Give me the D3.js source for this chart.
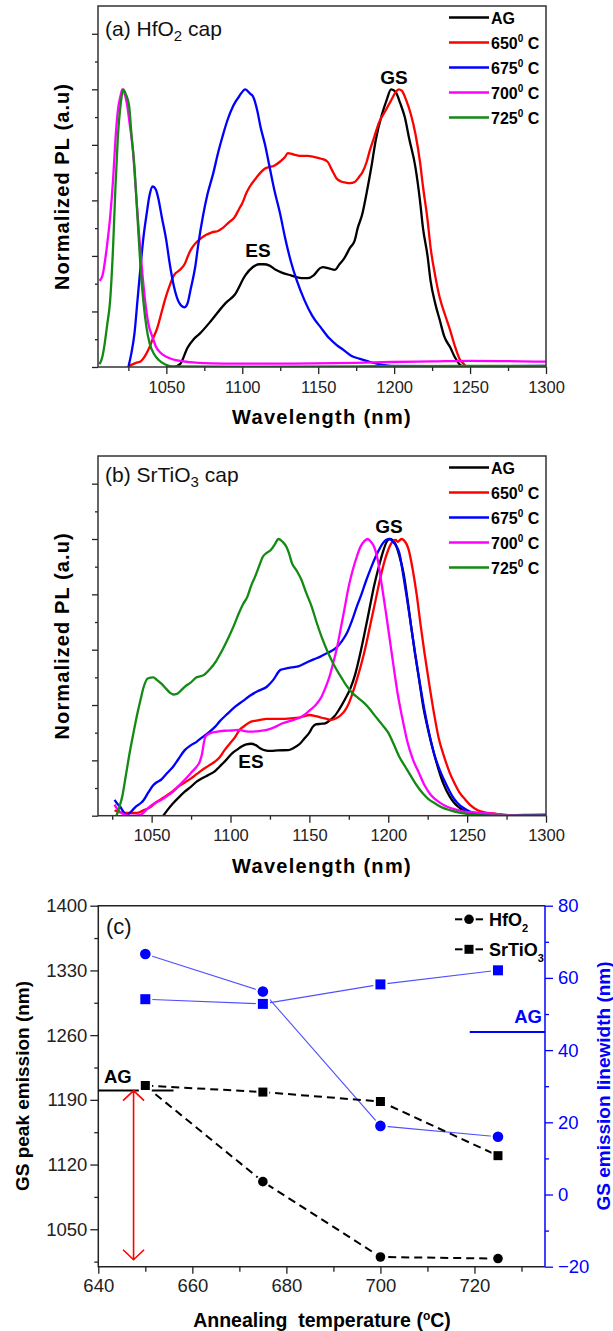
<!DOCTYPE html>
<html>
<head>
<meta charset="utf-8">
<script src="https://cdn.jsdelivr.net/npm/d3@7"></script>
<style>
  body { margin: 0; background: #fff; }
  svg { display: block; }
  text { font-family: "Liberation Sans", Arial, Helvetica, sans-serif; }
</style>
</head>
<body>
<div id="chart"></div>
<script>
const width = 613, height = 1331;

// (a) HfO2 cap spectra: [wavelength (nm), normalized PL]
const hfAG = [[1050,0],[1055,0],[1059,0.01],[1064,0.07],[1068,0.1],[1072,0.12],[1080,0.17],[1089,0.23],[1095,0.26],[1102,0.33],[1107,0.36],[1111,0.37],[1114,0.37],[1118,0.365],[1122,0.35],[1126,0.34],[1132,0.33],[1139,0.32],[1143,0.32],[1147,0.33],[1151,0.355],[1153,0.36],[1157,0.355],[1161,0.35],[1164,0.37],[1167,0.39],[1171,0.43],[1174,0.455],[1176,0.5],[1179,0.55],[1182,0.63],[1185,0.72],[1188,0.82],[1192,0.91],[1195,0.96],[1198,1.0],[1201,0.99],[1204,0.95],[1207,0.9],[1210,0.82],[1214,0.72],[1217,0.6],[1219,0.5],[1222,0.4],[1224,0.31],[1227,0.23],[1230,0.17],[1233,0.11],[1237,0.07],[1240,0.035],[1243,0.01],[1246,0],[1300,0]];
const hf650 = [[1025.5,0.004],[1030,0.015],[1033,0.02],[1036,0.04],[1038,0.06],[1041,0.1],[1044,0.14],[1047,0.2],[1049,0.24],[1052,0.29],[1055,0.33],[1059,0.35],[1062,0.37],[1065,0.41],[1067,0.43],[1070,0.45],[1072,0.46],[1076,0.475],[1080,0.485],[1084,0.49],[1087,0.5],[1091,0.52],[1095,0.54],[1098,0.57],[1100,0.59],[1103,0.63],[1105,0.65],[1109,0.68],[1112,0.7],[1115,0.715],[1118,0.72],[1121,0.725],[1125,0.74],[1128,0.755],[1130,0.77],[1134,0.765],[1139,0.76],[1143,0.76],[1147,0.757],[1152,0.75],[1156,0.74],[1159,0.71],[1162,0.68],[1165,0.668],[1168,0.664],[1171,0.662],[1174,0.666],[1177,0.685],[1179,0.7],[1182,0.74],[1184,0.78],[1187,0.83],[1190,0.88],[1194,0.92],[1198,0.96],[1201,0.99],[1203,1.0],[1205,0.995],[1208,0.96],[1211,0.91],[1214,0.84],[1217,0.74],[1219,0.65],[1222,0.53],[1224,0.43],[1227,0.33],[1230,0.25],[1234,0.18],[1237,0.13],[1240,0.075],[1243,0.03],[1246,0.01],[1248,0],[1300,0]];
const hf675 = [[1025,0],[1027,0.05],[1029,0.12],[1031,0.24],[1033,0.36],[1035,0.47],[1037,0.55],[1039,0.62],[1041,0.65],[1043,0.64],[1045,0.6],[1047,0.54],[1050,0.455],[1052,0.38],[1055,0.29],[1057,0.25],[1060,0.22],[1062,0.215],[1064,0.23],[1066,0.28],[1069,0.36],[1071,0.44],[1074,0.54],[1077,0.62],[1081,0.7],[1084,0.77],[1087,0.83],[1090,0.885],[1094,0.94],[1098,0.975],[1102,1.0],[1105,0.985],[1107,0.975],[1110,0.92],[1112,0.865],[1115,0.8],[1118,0.72],[1121,0.64],[1125,0.55],[1128,0.47],[1132,0.38],[1136,0.31],[1141,0.24],[1146,0.185],[1152,0.14],[1157,0.105],[1162,0.08],[1167,0.06],[1172,0.04],[1177,0.03],[1183,0.02],[1190,0.01],[1198,0.004],[1250,0.002],[1300,0.004]];
const hf700 = [[1006,0.31],[1008,0.33],[1009,0.36],[1011,0.44],[1013,0.54],[1015,0.68],[1016.5,0.82],[1018,0.92],[1020,0.98],[1021,1.0],[1022.5,0.985],[1024,0.95],[1026,0.87],[1028,0.78],[1030,0.63],[1032,0.48],[1034,0.35],[1036,0.24],[1038,0.16],[1041,0.106],[1043,0.075],[1046,0.052],[1050,0.037],[1054,0.028],[1060,0.021],[1069,0.016],[1080,0.013],[1095,0.012],[1120,0.012],[1147,0.013],[1175,0.015],[1198,0.018],[1225,0.02],[1250,0.022],[1275,0.021],[1300,0.019]];
const hf725 = [[1006,0.01],[1008,0.04],[1009,0.07],[1011,0.15],[1013,0.24],[1015,0.44],[1016.5,0.65],[1018,0.82],[1020,0.95],[1021.6,1.0],[1023.5,0.98],[1025.5,0.94],[1027,0.84],[1029,0.72],[1031,0.54],[1033,0.36],[1035,0.23],[1037,0.14],[1039,0.085],[1042,0.046],[1045,0.025],[1049,0.01],[1054,0.002],[1100,0.001],[1200,0.003],[1300,0.004]];

// (b) SrTiO3 cap spectra
const srAG = [[1057.4,0],[1060,0.02],[1063.6,0.045],[1067,0.065],[1071,0.087],[1075,0.105],[1078.5,0.123],[1082,0.135],[1086,0.147],[1090,0.16],[1093,0.177],[1097,0.2],[1101,0.225],[1104,0.238],[1107,0.25],[1110,0.258],[1113,0.26],[1116,0.255],[1119,0.243],[1122,0.236],[1125.5,0.234],[1130,0.236],[1136.6,0.237],[1140,0.245],[1144,0.26],[1147,0.28],[1150,0.3],[1152,0.32],[1154,0.33],[1157,0.332],[1160,0.334],[1163,0.345],[1166,0.36],[1169,0.385],[1172.5,0.42],[1176,0.46],[1179,0.51],[1182,0.58],[1185,0.66],[1188,0.745],[1191,0.83],[1194,0.9],[1197,0.96],[1199,0.99],[1201,1.0],[1203,0.995],[1204.7,0.98],[1207,0.94],[1209.7,0.876],[1212,0.79],[1214.6,0.68],[1217,0.585],[1219.6,0.49],[1222,0.4],[1225.7,0.3],[1229,0.225],[1232,0.165],[1235,0.115],[1239,0.069],[1242,0.045],[1245.5,0.027],[1251.7,0.008],[1264,0],[1300,0]];
const sr650 = [[1026.5,0.02],[1030,0.012],[1034,0.01],[1041,0.01],[1045,0.02],[1049,0.03],[1052,0.045],[1056,0.06],[1060,0.075],[1063.6,0.09],[1067,0.105],[1071,0.12],[1075,0.135],[1078.5,0.15],[1082,0.165],[1086,0.18],[1090,0.195],[1093,0.21],[1096,0.235],[1099.5,0.26],[1103,0.285],[1105.7,0.31],[1109,0.325],[1113,0.34],[1118,0.345],[1123,0.35],[1128,0.35],[1133,0.35],[1138,0.352],[1143,0.354],[1147,0.36],[1150,0.364],[1154,0.36],[1157.7,0.354],[1161,0.35],[1164,0.346],[1167,0.352],[1170,0.364],[1172.5,0.38],[1175,0.406],[1177.5,0.445],[1180,0.49],[1183,0.55],[1186,0.62],[1189,0.7],[1192,0.78],[1195,0.86],[1198.5,0.936],[1202,0.985],[1204.7,0.997],[1206,0.99],[1208.4,1.0],[1210,0.995],[1213,0.96],[1215.5,0.89],[1218,0.8],[1220.5,0.69],[1223,0.587],[1226,0.475],[1229,0.37],[1232,0.28],[1235.6,0.21],[1239,0.155],[1242,0.117],[1245,0.085],[1249,0.057],[1252,0.038],[1256.7,0.02],[1261,0.012],[1266.6,0.008],[1276,0.002],[1300,0]];
const sr675 = [[1026.5,0.057],[1028,0.045],[1030,0.033],[1032,0.015],[1034,0.002],[1037,0.015],[1040,0.033],[1043,0.045],[1045,0.057],[1048,0.085],[1051,0.11],[1053,0.12],[1056,0.13],[1060,0.155],[1063.6,0.177],[1067,0.205],[1071,0.237],[1075,0.255],[1078.5,0.267],[1082,0.283],[1086,0.3],[1090,0.32],[1093,0.34],[1098,0.368],[1103,0.394],[1108,0.415],[1113,0.436],[1118,0.452],[1123,0.466],[1127,0.49],[1131.7,0.527],[1136,0.533],[1140,0.537],[1143,0.54],[1148,0.553],[1152.7,0.565],[1157,0.575],[1161,0.587],[1164,0.595],[1167.6,0.61],[1170.5,0.63],[1173.8,0.66],[1177,0.705],[1180,0.755],[1183,0.8],[1186,0.85],[1189,0.895],[1192,0.936],[1195,0.97],[1198.5,0.996],[1201,1.0],[1203,0.99],[1205,0.975],[1207,0.95],[1209.5,0.87],[1212,0.78],[1214.5,0.685],[1217,0.587],[1220,0.48],[1223,0.38],[1226,0.295],[1229,0.225],[1233,0.16],[1237,0.11],[1240.5,0.072],[1244,0.045],[1248,0.027],[1251.7,0.015],[1258,0.008],[1264,0.005],[1276.5,0.002],[1290,0.003],[1300,0.004]];
const sr700 = [[1026.5,0.04],[1028.5,0.022],[1031.4,0.008],[1036,0],[1042.6,0.002],[1045.5,0.015],[1048.8,0.033],[1052,0.045],[1056,0.057],[1060,0.072],[1063.6,0.087],[1067,0.107],[1071,0.13],[1075,0.155],[1078.5,0.177],[1080.5,0.195],[1082,0.225],[1083,0.26],[1084,0.285],[1086,0.295],[1088,0.3],[1092,0.304],[1096,0.307],[1101,0.308],[1105.7,0.31],[1109,0.306],[1113,0.304],[1118,0.306],[1123,0.31],[1128,0.32],[1133,0.334],[1138,0.343],[1143,0.352],[1147,0.365],[1150,0.38],[1154,0.4],[1157.7,0.43],[1160,0.46],[1162.6,0.5],[1165,0.55],[1167.6,0.61],[1170,0.68],[1172.5,0.755],[1175,0.83],[1177.5,0.888],[1180,0.935],[1182.4,0.972],[1185,0.993],[1187,1.0],[1189,0.99],[1191,0.972],[1193.5,0.92],[1196,0.83],[1198.5,0.735],[1201,0.635],[1203.5,0.535],[1206,0.44],[1209,0.35],[1212,0.27],[1215.5,0.205],[1219.6,0.153],[1223,0.11],[1227,0.075],[1232,0.05],[1237,0.033],[1243,0.022],[1249,0.014],[1256,0.011],[1264,0.008],[1276.5,0.002],[1300,0]];
const sr725 = [[1027.7,0],[1029.5,0.03],[1031.4,0.07],[1033.5,0.14],[1036,0.225],[1038.5,0.3],[1041,0.37],[1043,0.42],[1045,0.466],[1047.5,0.496],[1051,0.5],[1053.5,0.49],[1056,0.478],[1059,0.46],[1061.5,0.445],[1063.6,0.438],[1066,0.44],[1068.5,0.452],[1071,0.466],[1074.5,0.48],[1078.5,0.5],[1083,0.508],[1087,0.53],[1091,0.56],[1094.5,0.595],[1098,0.635],[1102,0.685],[1105.7,0.737],[1108,0.765],[1110.6,0.79],[1113,0.83],[1115.6,0.864],[1118,0.9],[1120.5,0.936],[1123,0.95],[1125.5,0.96],[1128,0.98],[1130.4,1.0],[1133,0.99],[1135.4,0.972],[1137,0.95],[1139,0.912],[1142,0.885],[1145,0.852],[1148,0.805],[1151.5,0.755],[1154.5,0.7],[1157.7,0.647],[1161,0.6],[1164,0.563],[1167,0.53],[1170,0.502],[1173.5,0.47],[1177.5,0.442],[1181,0.425],[1185,0.406],[1188.5,0.384],[1192,0.358],[1196,0.33],[1200,0.3],[1203.5,0.258],[1207,0.213],[1211,0.175],[1214.6,0.141],[1218,0.11],[1222,0.08],[1225.5,0.06],[1229.5,0.045],[1234,0.03],[1239,0.02],[1245,0.011],[1251.7,0.005],[1264,0],[1300,0]];

const seriesNames = ["AG", "650", "675", "700", "725"];
const seriesColors = ["#000000", "#ff0000", "#0000ff", "#ff00ff", "#138a13"];

// (c) GS peak and linewidth vs annealing temperature
const anneal = [650, 675, 700, 725];
const hfPeak = [1205, 1101.5, 1020, 1018.3];
const srPeak = [1205.5, 1198.4, 1188.2, 1129.6];
const hfWidth = [66.6, 56.2, 19.0, 16.0];
const srWidth = [54.1, 52.8, 58.2, 62.1];
const agPeak = 1200, agWidth = 45;
const arrowTemp = 647.5, arrowLow = 1017;

const svg = d3.select("#chart").append("svg")
    .attr("width", width)
    .attr("height", height);

const plain = d3.format("d");

function styleAxis(g, color) {
    g.select(".domain").remove();
    g.selectAll(".tick line").attr("stroke", color).attr("stroke-width", 1.3);
    g.selectAll(".tick text").attr("fill", color);
}

// spectra panels (a) and (b)
function drawSpectra(p) {
    const x = d3.scaleLinear().domain([p.xMin, 1300]).range([98, 546]);
    const y = d3.scaleLinear().domain([0, 1.3]).range([p.bottom, p.top]);
    const g = svg.append("g");

    g.append("clipPath").attr("id", p.id)
        .append("rect")
        .attr("x", 98).attr("y", p.top)
        .attr("width", 448).attr("height", p.bottom - p.top);

    const line = d3.line()
        .x(d => x(d[0]))
        .y(d => y(d[1]))
        .curve(d3.curveMonotoneX);

    g.append("g").attr("clip-path", `url(#${p.id})`)
        .selectAll("path")
        .data(p.series)
        .join("path")
        .attr("d", d => line(d))
        .attr("fill", "none")
        .attr("stroke", (d, i) => seriesColors[i])
        .attr("stroke-width", 2.3)
        .attr("stroke-linejoin", "round");

    // axes
    const xMajor = g.append("g").attr("transform", `translate(0,${p.bottom})`)
        .call(d3.axisBottom(x).tickValues(d3.range(1050, 1301, 50)).tickSize(7).tickPadding(7).tickFormat(plain));
    styleAxis(xMajor, "#222");
    xMajor.selectAll(".tick text").attr("font-size", 16.5).attr("font-family", null);
    const xMinor = g.append("g").attr("transform", `translate(0,${p.bottom})`)
        .call(d3.axisBottom(x).tickValues(d3.range(1025, 1300, 50)).tickSize(4).tickFormat(""));
    styleAxis(xMinor, "#222");

    const yMajor = g.append("g").attr("transform", "translate(98,0)")
        .call(d3.axisLeft(y).tickValues([0, 0.2, 0.4, 0.6, 0.8, 1.0, 1.2]).tickSize(6).tickFormat(""));
    styleAxis(yMajor, "#222");
    const yMinor = g.append("g").attr("transform", "translate(98,0)")
        .call(d3.axisLeft(y).tickValues([0.1, 0.3, 0.5, 0.7, 0.9, 1.1]).tickSize(3).tickFormat(""));
    styleAxis(yMinor, "#222");

    g.append("rect")
        .attr("x", 98).attr("y", p.top)
        .attr("width", 448).attr("height", p.bottom - p.top)
        .attr("fill", "none").attr("stroke", "#333").attr("stroke-width", 1.5);

    // title
    const t = g.append("text").attr("x", 105).attr("y", p.titleY)
        .attr("font-size", 21).attr("fill", "#111");
    t.append("tspan").text(p.title[0]);
    t.append("tspan").attr("dy", 5).attr("font-size", 15).text(p.title[1]);
    t.append("tspan").attr("dy", -5).text(p.title[2]);

    // legend
    const lg = g.append("g");
    seriesNames.forEach((name, i) => {
        const ly = p.top + 11.5 + i * 25;
        lg.append("line")
            .attr("x1", 449).attr("x2", 489)
            .attr("y1", ly).attr("y2", ly)
            .attr("stroke", seriesColors[i]).attr("stroke-width", 2.5);
        const lt = lg.append("text")
            .attr("x", 491).attr("y", ly + 6)
            .attr("font-size", 16).attr("font-weight", "bold");
        if (i === 0) {
            lt.text(name);
        } else {
            lt.append("tspan").text(name);
            lt.append("tspan").attr("dy", -7).attr("font-size", 10).text("0");
            lt.append("tspan").attr("dy", 7).text(" C");
        }
    });

    // peak labels
    g.append("text").attr("x", p.gs[0]).attr("y", p.gs[1])
        .attr("text-anchor", "middle").attr("font-size", 19).attr("font-weight", "bold").text("GS");
    g.append("text").attr("x", p.es[0]).attr("y", p.es[1])
        .attr("text-anchor", "middle").attr("font-size", 19).attr("font-weight", "bold").text("ES");

    // axis labels
    g.append("text")
        .attr("x", 322).attr("y", p.xLabelY)
        .attr("text-anchor", "middle")
        .attr("font-size", 20).attr("font-weight", "bold")
        .attr("letter-spacing", 1.3)
        .text("Wavelength (nm)");
    g.append("text")
        .attr("transform", `translate(62,${(p.top + p.bottom) / 2}) rotate(-90)`)
        .attr("text-anchor", "middle")
        .attr("dominant-baseline", "central")
        .attr("font-size", 20).attr("font-weight", "bold")
        .attr("letter-spacing", 1.1)
        .text("Normalized PL (a.u)");
}

drawSpectra({
    id: "clipA", xMin: 1005, top: 6, bottom: 367,
    series: [hfAG, hf650, hf675, hf700, hf725],
    title: ["(a) HfO", "2", " cap"], titleY: 36,
    gs: [394, 84], es: [258, 257], xLabelY: 424
});

drawSpectra({
    id: "clipB", xMin: 1016, top: 456, bottom: 815.7,
    series: [srAG, sr650, sr675, sr700, sr725],
    title: ["(b) SrTiO", "3", " cap"], titleY: 482,
    gs: [389, 533], es: [251, 768], xLabelY: 873
});

// panel (c)
const xC = d3.scaleLinear().domain([640, 735]).range([98.3, 545]);
const yPeak = d3.scaleLinear().domain([1009.5, 1400]).range([1266.7, 905.7]);
const yWidth = d3.scaleLinear().domain([-20, 80]).range([1266.7, 905.7]);
const gc = svg.append("g");
const blue = "#0000ff";

// axes
const bx = gc.append("g").attr("transform", "translate(0,1266.7)")
    .call(d3.axisBottom(xC).tickValues(d3.range(640, 721, 20)).tickSize(7).tickPadding(5).tickFormat(plain));
styleAxis(bx, "#222");
bx.selectAll(".tick text").attr("font-size", 18.5).attr("font-family", null);
const bxm = gc.append("g").attr("transform", "translate(0,1266.7)")
    .call(d3.axisBottom(xC).tickValues(d3.range(650, 731, 20)).tickSize(5).tickFormat(""));
styleAxis(bxm, "#222");

const ly = gc.append("g").attr("transform", "translate(98.3,0)")
    .call(d3.axisLeft(yPeak).tickValues([1050, 1120, 1190, 1260, 1330, 1400]).tickSize(8).tickPadding(3).tickFormat(plain));
styleAxis(ly, "#222");
ly.selectAll(".tick text").attr("font-size", 18.5).attr("font-family", null);
const lym = gc.append("g").attr("transform", "translate(98.3,0)")
    .call(d3.axisLeft(yPeak).tickValues([1015, 1085, 1155, 1225, 1295, 1365]).tickSize(4).tickFormat(""));
styleAxis(lym, "#222");

const ry = gc.append("g").attr("transform", "translate(545,0)")
    .call(d3.axisRight(yWidth).tickValues([-20, 0, 20, 40, 60, 80]).tickSize(8).tickPadding(5).tickFormat(plain));
styleAxis(ry, blue);
ry.selectAll(".tick text").attr("font-size", 18.5).attr("font-family", null);
const rym = gc.append("g").attr("transform", "translate(545,0)")
    .call(d3.axisRight(yWidth).tickValues([-10, 10, 30, 50, 70]).tickSize(4).tickFormat(""));
styleAxis(rym, blue);

// frame
gc.append("path")
    .attr("d", `M545,905.7 H98.3 V1266.7 H545`)
    .attr("fill", "none").attr("stroke", "#222").attr("stroke-width", 1.5);
gc.append("line")
    .attr("x1", 545).attr("x2", 545).attr("y1", 905.7).attr("y2", 1266.7)
    .attr("stroke", blue).attr("stroke-width", 1.5);

// AG reference lines
gc.append("line")
    .attr("x1", xC(640)).attr("x2", xC(656))
    .attr("y1", yPeak(agPeak)).attr("y2", yPeak(agPeak))
    .attr("stroke", "#000").attr("stroke-width", 2);
gc.append("text").attr("x", 104).attr("y", yPeak(agPeak) - 8)
    .attr("font-size", 18.5).attr("font-weight", "bold").text("AG");
gc.append("line")
    .attr("x1", xC(719)).attr("x2", xC(735))
    .attr("y1", yWidth(agWidth)).attr("y2", yWidth(agWidth))
    .attr("stroke", blue).attr("stroke-width", 2);
gc.append("text").attr("x", 542).attr("y", yWidth(agWidth) - 9)
    .attr("text-anchor", "end").attr("fill", blue)
    .attr("font-size", 18.5).attr("font-weight", "bold").text("AG");

// red double arrow
const ax = xC(arrowTemp), aTop = yPeak(agPeak), aBot = yPeak(arrowLow);
gc.append("path")
    .attr("d", `M${ax},${aTop} V${aBot} M${ax - 10.5},${aTop + 10} L${ax},${aTop} L${ax + 10.5},${aTop + 10} M${ax - 10.5},${aBot - 10} L${ax},${aBot} L${ax + 10.5},${aBot - 10}`)
    .attr("fill", "none").attr("stroke", "#ff0000").attr("stroke-width", 1.6);

// linewidth (blue, right axis)
const wLine = d3.line().x((d, i) => xC(anneal[i])).y(d => yWidth(d));
gc.append("path").attr("d", wLine(hfWidth)).attr("fill", "none").attr("stroke", "#5050ff").attr("stroke-width", 1.1);
gc.append("path").attr("d", wLine(srWidth)).attr("fill", "none").attr("stroke", "#5050ff").attr("stroke-width", 1.1);

// peak emission (black dashed, left axis)
const pLine = d3.line().x((d, i) => xC(anneal[i])).y(d => yPeak(d));
gc.append("path").attr("d", pLine(hfPeak)).attr("fill", "none").attr("stroke", "#000")
    .attr("stroke-width", 2).attr("stroke-dasharray", "8,5");
gc.append("path").attr("d", pLine(srPeak)).attr("fill", "none").attr("stroke", "#000")
    .attr("stroke-width", 2).attr("stroke-dasharray", "8,5");

function circles(vals, yS, color, r) {
    gc.append("g").selectAll("circle").data(vals).join("circle")
        .attr("cx", (d, i) => xC(anneal[i])).attr("cy", d => yS(d)).attr("r", r)
        .attr("fill", color).attr("stroke", "#fff").attr("stroke-width", 4)
        .style("paint-order", "stroke");
}
function squares(vals, yS, color, s) {
    gc.append("g").selectAll("rect").data(vals).join("rect")
        .attr("x", (d, i) => xC(anneal[i]) - s / 2).attr("y", d => yS(d) - s / 2)
        .attr("width", s).attr("height", s)
        .attr("fill", color).attr("stroke", "#fff").attr("stroke-width", 4)
        .style("paint-order", "stroke");
}
circles(hfWidth, yWidth, blue, 5.3);
squares(srWidth, yWidth, blue, 10);
circles(hfPeak, yPeak, "#000", 4.8);
squares(srPeak, yPeak, "#000", 9);

// legend (c)
const legC = [["HfO", "2", "circle"], ["SrTiO", "3", "square"]];
legC.forEach((d, i) => {
    const yy = 919.3 + i * 30;
    gc.append("line").attr("x1", 455).attr("x2", 483).attr("y1", yy).attr("y2", yy)
        .attr("stroke", "#000").attr("stroke-width", 2);
    if (d[2] === "circle") {
        gc.append("circle").attr("cx", 469).attr("cy", yy).attr("r", 4.8)
            .attr("fill", "#000").attr("stroke", "#fff").attr("stroke-width", 4).style("paint-order", "stroke");
    } else {
        gc.append("rect").attr("x", 464.5).attr("y", yy - 4.5).attr("width", 9).attr("height", 9)
            .attr("fill", "#000").attr("stroke", "#fff").attr("stroke-width", 4).style("paint-order", "stroke");
    }
    const t = gc.append("text").attr("x", 489).attr("y", yy + 6.5)
        .attr("font-size", 18).attr("font-weight", "bold");
    t.append("tspan").text(d[0]);
    t.append("tspan").attr("dy", 6).attr("font-size", 11).text(d[1]);
});

gc.append("text").attr("x", 106).attr("y", 934).attr("font-size", 22).attr("fill", "#111").text("(c)");

// axis titles (c)
const xt = gc.append("text").attr("x", 322).attr("y", 1327)
    .attr("text-anchor", "middle").attr("font-size", 19.5).attr("font-weight", "bold");
xt.append("tspan").text("Annealing\u00a0 temperature (");
xt.append("tspan").attr("dy", -7).attr("font-size", 12).text("o");
xt.append("tspan").attr("dy", 7).text("C)");

gc.append("text")
    .attr("transform", "translate(22,1086) rotate(-90)")
    .attr("text-anchor", "middle").attr("dominant-baseline", "central")
    .attr("font-size", 19).attr("font-weight", "bold")
    .text("GS peak emission (nm)");
gc.append("text")
    .attr("transform", "translate(603,1086) rotate(-90)")
    .attr("text-anchor", "middle").attr("dominant-baseline", "central")
    .attr("font-size", 19).attr("font-weight", "bold").attr("fill", blue)
    .text("GS emission linewidth (nm)");
</script>
</body>
</html>
